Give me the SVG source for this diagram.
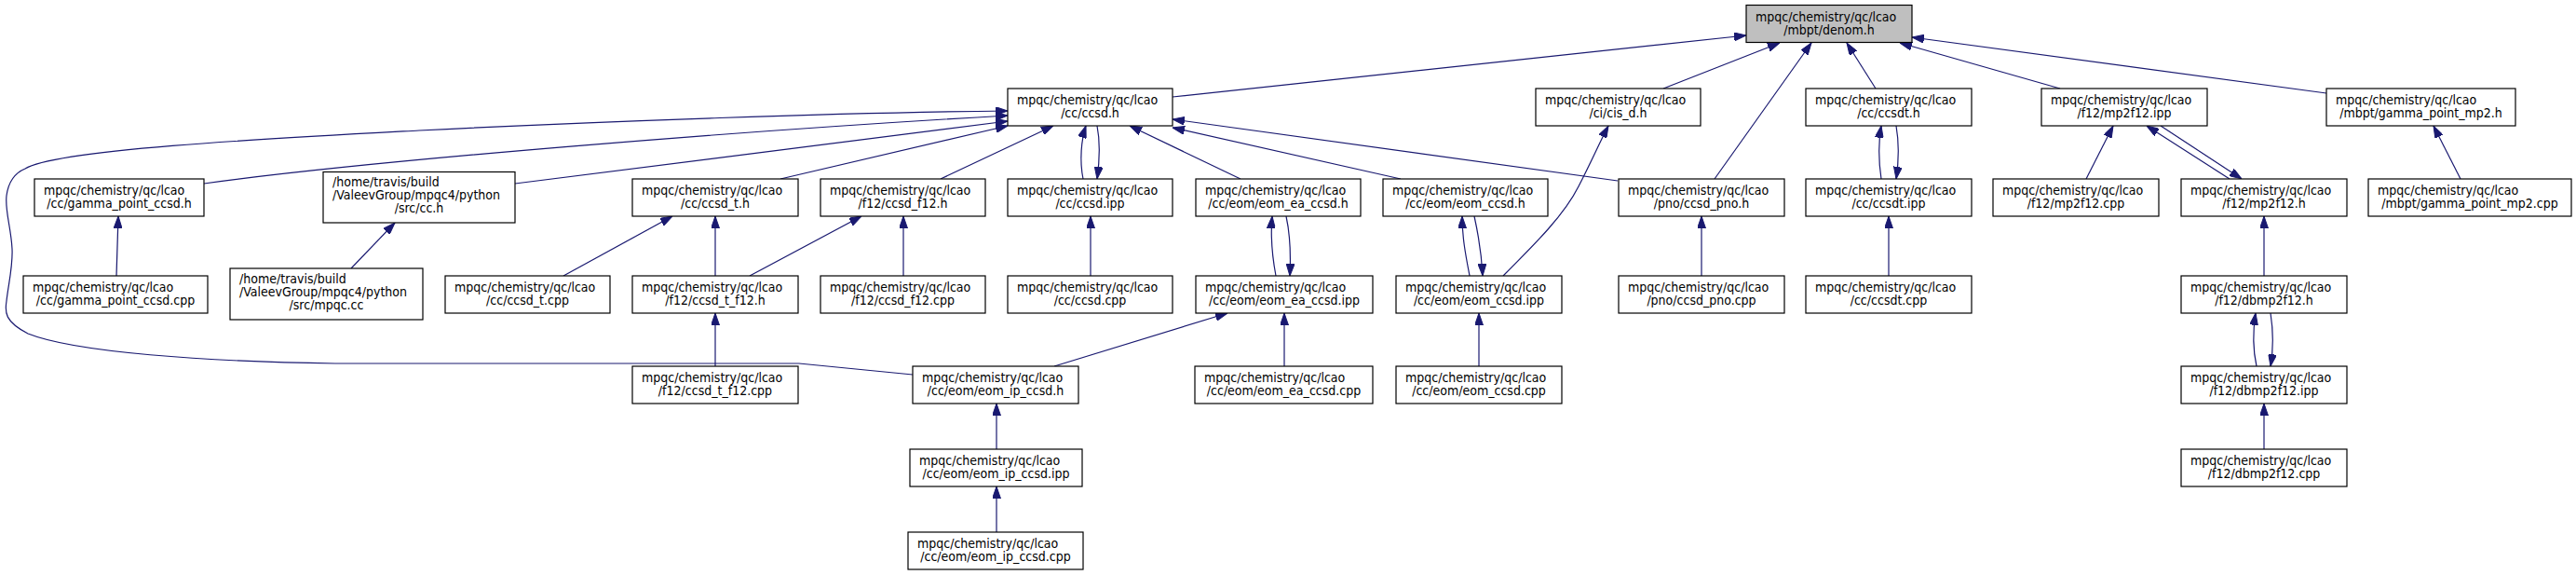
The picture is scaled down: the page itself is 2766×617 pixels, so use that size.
<svg xmlns="http://www.w3.org/2000/svg" width="2766" height="617" viewBox="0 0 2766 617">
<defs>
<style>
.n rect{fill:#ffffff;stroke:#000000;stroke-width:1.2}
.n text{font-family:"DejaVu Sans Condensed","DejaVu Sans",sans-serif;font-size:14px;fill:#000000}
.n text.c{text-anchor:middle}
#edges path{fill:none;stroke:#191970;stroke-width:1.2;marker-end:url(#ah)}
</style>
<marker id="ah" viewBox="0 0 13 9" refX="13" refY="4.5" markerWidth="13" markerHeight="9" markerUnits="userSpaceOnUse" orient="auto"><path d="M0,0L13,4.5L0,9z" fill="#191970" stroke="#191970" stroke-width="1"/></marker>
</defs>
<rect x="0" y="0" width="2766" height="617" fill="#ffffff"/>
<g id="edges">
<path d="M1259,104 L1875,38"/>
<path d="M1786,95 L1911,46"/>
<path d="M1841,192 L1945,46"/>
<path d="M2014,95 L1983,46"/>
<path d="M2212,95 L2040,46"/>
<path d="M2498,100 L2053,40"/>
<path d="M980,402 L858,390 L360,390 C220,388 80,378 30,358 C5,345 5,335 7,323 C9,305 14,285 13,267 C12,245 5,225 7,210 C9,195 15,186 27,181 C60,160 300,148 450,140 C650,130 900,121 1082,119"/>
<path d="M219,197 C400,172 800,140 1082,124"/>
<path d="M553,197 L1082,130"/>
<path d="M838,192 L1082,135"/>
<path d="M1010,192 L1131,135"/>
<path d="M1163,192 C1159,172 1161,150 1166,135"/>
<path d="M1178,135 C1181,150 1181,170 1178,192"/>
<path d="M1332,192 L1213,135"/>
<path d="M1737,194 L1259,128"/>
<path d="M1504,192 L1259,137"/>
<path d="M125,296 L127,232"/>
<path d="M377,288 L424,239"/>
<path d="M605,296 L722,232"/>
<path d="M768,296 L768,232"/>
<path d="M805,296 L925,232"/>
<path d="M970,296 L970,232"/>
<path d="M1171,296 L1171,232"/>
<path d="M1370,296 C1366,275 1364,255 1366,232"/>
<path d="M1381,232 C1385,250 1386,275 1385,296"/>
<path d="M1132,393 L1318,336"/>
<path d="M1379,393 L1379,336"/>
<path d="M1578,296 C1574,275 1570,255 1570,232"/>
<path d="M1583,232 C1587,250 1591,275 1592,296"/>
<path d="M1614,296 C1650,260 1680,230 1695,200 C1708,175 1718,152 1727,135"/>
<path d="M1827,296 L1827,232"/>
<path d="M2020,192 C2017,172 2017,152 2020,135"/>
<path d="M2036,135 C2039,152 2039,172 2036,192"/>
<path d="M2028,296 L2028,232"/>
<path d="M2240,192 L2269,135"/>
<path d="M2394,192 L2305,135"/>
<path d="M2320,135 L2407,192"/>
<path d="M2642,192 L2613,135"/>
<path d="M2431,296 L2431,232"/>
<path d="M2423,393 C2419,375 2419,355 2422,336"/>
<path d="M2438,336 C2441,355 2441,375 2438,393"/>
<path d="M2431,482 L2431,433"/>
<path d="M1070,482 L1070,433"/>
<path d="M1070,571 L1070,522"/>
<path d="M1588,393 L1588,336"/>
<path d="M768,393 L768,336"/>
</g>
<g id="denom_h" class="n"><rect x="1875" y="5.5" width="178" height="40" style="fill:#bfbfbf"/><text x="1885" y="22.5">mpqc/chemistry/qc/lcao</text><text class="c" x="1964" y="36.5">/mbpt/denom.h</text></g>
<g id="ccsd_h" class="n"><rect x="1082" y="95" width="177" height="40"/><text x="1092" y="112">mpqc/chemistry/qc/lcao</text><text class="c" x="1170.5" y="126">/cc/ccsd.h</text></g>
<g id="cis_d_h" class="n"><rect x="1649" y="95" width="177" height="40"/><text x="1659" y="112">mpqc/chemistry/qc/lcao</text><text class="c" x="1737.5" y="126">/ci/cis_d.h</text></g>
<g id="ccsdt_h" class="n"><rect x="1939" y="95" width="178" height="40"/><text x="1949" y="112">mpqc/chemistry/qc/lcao</text><text class="c" x="2028" y="126">/cc/ccsdt.h</text></g>
<g id="mp2f12_ipp" class="n"><rect x="2192" y="95" width="178" height="40"/><text x="2202" y="112">mpqc/chemistry/qc/lcao</text><text class="c" x="2281" y="126">/f12/mp2f12.ipp</text></g>
<g id="gamma_point_mp2_h" class="n"><rect x="2498" y="95" width="203" height="40"/><text x="2508" y="112">mpqc/chemistry/qc/lcao</text><text class="c" x="2599.5" y="126">/mbpt/gamma_point_mp2.h</text></g>
<g id="gamma_point_ccsd_h" class="n"><rect x="37" y="192" width="182" height="40"/><text x="47" y="209">mpqc/chemistry/qc/lcao</text><text class="c" x="128" y="223">/cc/gamma_point_ccsd.h</text></g>
<g id="cc_h" class="n"><rect x="347" y="184.5" width="206" height="54.5"/><text x="357" y="200">/home/travis/build</text><text x="357" y="214">/ValeevGroup/mpqc4/python</text><text class="c" x="450" y="228">/src/cc.h</text></g>
<g id="ccsd_t_h" class="n"><rect x="679" y="192" width="178" height="40"/><text x="689" y="209">mpqc/chemistry/qc/lcao</text><text class="c" x="768" y="223">/cc/ccsd_t.h</text></g>
<g id="ccsd_f12_h" class="n"><rect x="881" y="192" width="177" height="40"/><text x="891" y="209">mpqc/chemistry/qc/lcao</text><text class="c" x="969.5" y="223">/f12/ccsd_f12.h</text></g>
<g id="ccsd_ipp" class="n"><rect x="1082" y="192" width="177" height="40"/><text x="1092" y="209">mpqc/chemistry/qc/lcao</text><text class="c" x="1170.5" y="223">/cc/ccsd.ipp</text></g>
<g id="eom_ea_ccsd_h" class="n"><rect x="1284" y="192" width="177" height="40"/><text x="1294" y="209">mpqc/chemistry/qc/lcao</text><text class="c" x="1372.5" y="223">/cc/eom/eom_ea_ccsd.h</text></g>
<g id="eom_ccsd_h" class="n"><rect x="1485" y="192" width="177" height="40"/><text x="1495" y="209">mpqc/chemistry/qc/lcao</text><text class="c" x="1573.5" y="223">/cc/eom/eom_ccsd.h</text></g>
<g id="ccsd_pno_h" class="n"><rect x="1738" y="192" width="178" height="40"/><text x="1748" y="209">mpqc/chemistry/qc/lcao</text><text class="c" x="1827" y="223">/pno/ccsd_pno.h</text></g>
<g id="ccsdt_ipp" class="n"><rect x="1939" y="192" width="178" height="40"/><text x="1949" y="209">mpqc/chemistry/qc/lcao</text><text class="c" x="2028" y="223">/cc/ccsdt.ipp</text></g>
<g id="mp2f12_cpp" class="n"><rect x="2140" y="192" width="178" height="40"/><text x="2150" y="209">mpqc/chemistry/qc/lcao</text><text class="c" x="2229" y="223">/f12/mp2f12.cpp</text></g>
<g id="mp2f12_h" class="n"><rect x="2342" y="192" width="178" height="40"/><text x="2352" y="209">mpqc/chemistry/qc/lcao</text><text class="c" x="2431" y="223">/f12/mp2f12.h</text></g>
<g id="gamma_point_mp2_cpp" class="n"><rect x="2543" y="192" width="218" height="40"/><text x="2553" y="209">mpqc/chemistry/qc/lcao</text><text class="c" x="2652" y="223">/mbpt/gamma_point_mp2.cpp</text></g>
<g id="gamma_point_ccsd_cpp" class="n"><rect x="25" y="296" width="198" height="40"/><text x="35" y="313">mpqc/chemistry/qc/lcao</text><text class="c" x="124" y="327">/cc/gamma_point_ccsd.cpp</text></g>
<g id="mpqc_cc" class="n"><rect x="247" y="288" width="207" height="55"/><text x="257" y="304">/home/travis/build</text><text x="257" y="318">/ValeevGroup/mpqc4/python</text><text class="c" x="350.5" y="332">/src/mpqc.cc</text></g>
<g id="ccsd_t_cpp" class="n"><rect x="478" y="296" width="177" height="40"/><text x="488" y="313">mpqc/chemistry/qc/lcao</text><text class="c" x="566.5" y="327">/cc/ccsd_t.cpp</text></g>
<g id="ccsd_t_f12_h" class="n"><rect x="679" y="296" width="178" height="40"/><text x="689" y="313">mpqc/chemistry/qc/lcao</text><text class="c" x="768" y="327">/f12/ccsd_t_f12.h</text></g>
<g id="ccsd_f12_cpp" class="n"><rect x="881" y="296" width="177" height="40"/><text x="891" y="313">mpqc/chemistry/qc/lcao</text><text class="c" x="969.5" y="327">/f12/ccsd_f12.cpp</text></g>
<g id="ccsd_cpp" class="n"><rect x="1082" y="296" width="177" height="40"/><text x="1092" y="313">mpqc/chemistry/qc/lcao</text><text class="c" x="1170.5" y="327">/cc/ccsd.cpp</text></g>
<g id="eom_ea_ccsd_ipp" class="n"><rect x="1284" y="296" width="190" height="40"/><text x="1294" y="313">mpqc/chemistry/qc/lcao</text><text class="c" x="1379" y="327">/cc/eom/eom_ea_ccsd.ipp</text></g>
<g id="eom_ccsd_ipp" class="n"><rect x="1499" y="296" width="178" height="40"/><text x="1509" y="313">mpqc/chemistry/qc/lcao</text><text class="c" x="1588" y="327">/cc/eom/eom_ccsd.ipp</text></g>
<g id="ccsd_pno_cpp" class="n"><rect x="1738" y="296" width="178" height="40"/><text x="1748" y="313">mpqc/chemistry/qc/lcao</text><text class="c" x="1827" y="327">/pno/ccsd_pno.cpp</text></g>
<g id="ccsdt_cpp" class="n"><rect x="1939" y="296" width="178" height="40"/><text x="1949" y="313">mpqc/chemistry/qc/lcao</text><text class="c" x="2028" y="327">/cc/ccsdt.cpp</text></g>
<g id="dbmp2f12_h" class="n"><rect x="2342" y="296" width="178" height="40"/><text x="2352" y="313">mpqc/chemistry/qc/lcao</text><text class="c" x="2431" y="327">/f12/dbmp2f12.h</text></g>
<g id="ccsd_t_f12_cpp" class="n"><rect x="679" y="393" width="178" height="40"/><text x="689" y="410">mpqc/chemistry/qc/lcao</text><text class="c" x="768" y="424">/f12/ccsd_t_f12.cpp</text></g>
<g id="eom_ip_ccsd_h" class="n"><rect x="980" y="393" width="178" height="40"/><text x="990" y="410">mpqc/chemistry/qc/lcao</text><text class="c" x="1069" y="424">/cc/eom/eom_ip_ccsd.h</text></g>
<g id="eom_ea_ccsd_cpp" class="n"><rect x="1283" y="393" width="191" height="40"/><text x="1293" y="410">mpqc/chemistry/qc/lcao</text><text class="c" x="1378.5" y="424">/cc/eom/eom_ea_ccsd.cpp</text></g>
<g id="eom_ccsd_cpp" class="n"><rect x="1499" y="393" width="178" height="40"/><text x="1509" y="410">mpqc/chemistry/qc/lcao</text><text class="c" x="1588" y="424">/cc/eom/eom_ccsd.cpp</text></g>
<g id="dbmp2f12_ipp" class="n"><rect x="2342" y="393" width="178" height="40"/><text x="2352" y="410">mpqc/chemistry/qc/lcao</text><text class="c" x="2431" y="424">/f12/dbmp2f12.ipp</text></g>
<g id="eom_ip_ccsd_ipp" class="n"><rect x="977" y="482" width="185" height="40"/><text x="987" y="499">mpqc/chemistry/qc/lcao</text><text class="c" x="1069.5" y="513">/cc/eom/eom_ip_ccsd.ipp</text></g>
<g id="dbmp2f12_cpp" class="n"><rect x="2342" y="482" width="178" height="40"/><text x="2352" y="499">mpqc/chemistry/qc/lcao</text><text class="c" x="2431" y="513">/f12/dbmp2f12.cpp</text></g>
<g id="eom_ip_ccsd_cpp" class="n"><rect x="975" y="571" width="188" height="40"/><text x="985" y="588">mpqc/chemistry/qc/lcao</text><text class="c" x="1069" y="602">/cc/eom/eom_ip_ccsd.cpp</text></g>
</svg>
